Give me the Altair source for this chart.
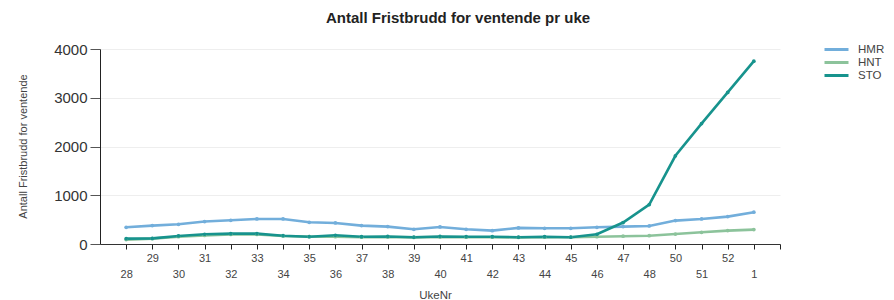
import altair as alt
import pandas as pd

weeks = ["28", "29", "30", "31", "32", "33", "34", "35", "36", "37", "38", "39", "40",
         "41", "42", "43", "44", "45", "46", "47", "48", "50", "51", "52", "1"]
hmr = [343, 377, 405, 460, 487, 514, 514, 446, 432, 377, 357, 302, 350,
       302, 274, 330, 322, 322, 343, 357, 370, 480, 514, 562, 652]
hnt = [90, 110, 150, 175, 195, 195, 165, 150, 150, 140, 145, 135, 145,
       140, 140, 135, 140, 140, 150, 160, 170, 205, 240, 275, 295]
sto = [110, 115, 165, 200, 212, 212, 170, 150, 178, 150, 155, 140, 155,
       150, 150, 140, 150, 140, 200, 440, 810, 1810, 2470, 3110, 3750]
series = ["HMR", "HNT", "STO"]
colors = ["#72aedb", "#8cc39b", "#17938d"]

rows = []
for name, vals in zip(series, [hmr, hnt, sto]):
    for i, (w, v) in enumerate(zip(weeks, vals)):
        rows.append({"idx": i, "Uke": w, "Serie": name, "Antall": v})
df = pd.DataFrame(rows)

week_arr = "[" + ",".join("'" + w + "'" for w in weeks) + "]"
n = len(weeks)

FONT = "Liberation Sans"

chart = alt.Chart(df).mark_line(
    strokeWidth=2.6,
    point=alt.OverlayMarkDef(size=14, filled=True),
).encode(
    x=alt.X(
        "idx:Q",
        scale=alt.Scale(domain=[-1, n], nice=False, zero=False),
        axis=alt.Axis(
            title="UkeNr",
            values=list(range(0, n + 1)),
            labelExpr=f"datum.value < {n} ? {week_arr}[datum.value] : ''",
            labelPadding={"condition": {"test": "datum.value % 2 == 1", "value": 3}, "value": 19},
            labelFontSize=11,
            labelFont=FONT,
            labelColor="#444444",
            labelBaseline="top",
            labelAngle=0,
            labelOverlap=False,
            labelFlush=False,
            tickSize=5,
            tickColor="#222222",
            domainColor="#333333",
            grid=False,
            titleFont=FONT,
            titleFontSize=11.5,
            titleFontWeight="normal",
            titleColor="#444444",
            titleX=335,
            titleY=54,
            titleBaseline="alphabetic",
            titleAlign="center",
        ),
    ),
    y=alt.Y(
        "Antall:Q",
        scale=alt.Scale(domain=[0, 4000], nice=False),
        axis=alt.Axis(
            title="Antall Fristbrudd for ventende",
            values=[0, 1000, 2000, 3000, 4000],
            format="d",
            labelFontSize=15,
            labelFont=FONT,
            labelColor="#333333",
            labelPadding=3,
            tickSize=10,
            tickColor="#555555",
            domainColor="#222222",
            gridColor="#eeeeee",
            titleFont=FONT,
            titleFontSize=11,
            titleFontWeight="normal",
            titleColor="#444444",
            titleX=-77,
            titleY=97,
            titleAngle=-90,
            titleAlign="center",
            titleBaseline="middle",
        ),
    ),
    color=alt.Color(
        "Serie:N",
        scale=alt.Scale(domain=series, range=colors),
        legend=alt.Legend(
            title=None,
            orient="none",
            legendX=730,
            legendY=-6,
            symbolType="M-2.4,0H2.4",
            symbolSize=100,
            symbolStrokeWidth=3,
            symbolFillColor="transparent",
            labelFont=FONT,
            labelFontSize=11.5,
            labelColor="#444444",
            rowPadding=0,
            labelOffset=15,
        ),
    ),
).properties(
    width=680,
    height=195,
    autosize=alt.AutoSizeParams(type="none"),
    padding={"left": 92, "top": 41, "right": 106, "bottom": 55},
    title=alt.TitleParams(
        "Antall Fristbrudd for ventende pr uke",
        font=FONT,
        fontSize=15,
        fontWeight="bold",
        color="#222222",
        anchor="middle",
        dx=18,
        offset=4,
        baseline="alphabetic",
    ),
).configure_view(stroke=None)

chart.save("out.html", embed_options={"renderer": "svg", "actions": False})
